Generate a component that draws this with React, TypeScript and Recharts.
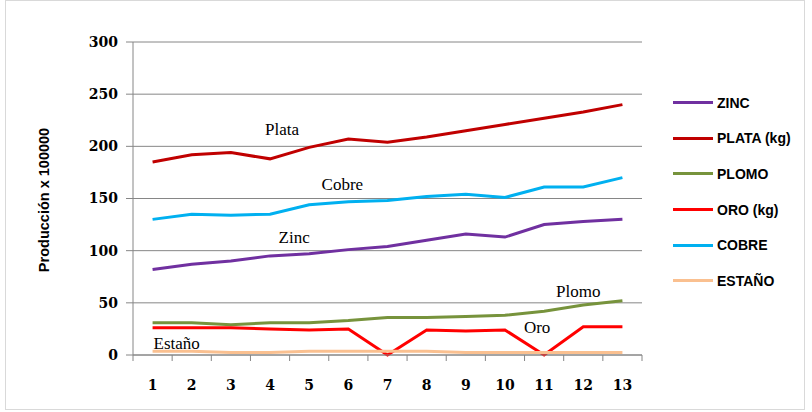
import React from 'react';
import { LineChart, Line, XAxis, YAxis, CartesianGrid, ReferenceDot } from 'recharts';

const periods = [1, 2, 3, 4, 5, 6, 7, 8, 9, 10, 11, 12, 13];
const zinc = [82, 87, 90, 95, 97, 101, 104, 110, 116, 113, 125, 128, 130];
const plata = [185, 192, 194, 188, 199, 207, 204, 209, 215, 221, 227, 233, 240];
const plomo = [31, 31, 29, 31, 31, 33, 36, 36, 37, 38, 42, 48, 52];
const oro = [26, 26, 26, 25, 24, 25, 0, 24, 23, 24, 0, 27, 27];
const cobre = [130, 135, 134, 135, 144, 147, 148, 152, 154, 151, 161, 161, 170];
const estano = [3.5, 3.5, 2.5, 2.5, 3.5, 3.5, 3.5, 3.5, 2.5, 2.5, 2.5, 2.5, 2.5];
const yTicks = [0, 50, 100, 150, 200, 250, 300];
const boundaryTicks = [0.5, 1.5, 2.5, 3.5, 4.5, 5.5, 6.5, 7.5, 8.5, 9.5, 10.5, 11.5, 12.5, 13.5];

const series = [
  { key: 'zinc', name: 'ZINC', color: '#7030A0', values: zinc },
  { key: 'plata', name: 'PLATA (kg)', color: '#C00000', values: plata },
  { key: 'plomo', name: 'PLOMO', color: '#77933C', values: plomo },
  { key: 'oro', name: 'ORO (kg)', color: '#FF0000', values: oro },
  { key: 'cobre', name: 'COBRE', color: '#00B0F0', values: cobre },
  { key: 'estano', name: 'ESTAÑO', color: '#FAC090', values: estano },
];

const annotations = [
  { text: 'Plata', x: 4, y: 216, dx: 12 },
  { text: 'Cobre', x: 6, y: 163, dx: -6 },
  { text: 'Zinc', x: 5, y: 113, dx: -15 },
  { text: 'Plomo', x: 12, y: 61, dx: -5 },
  { text: 'Oro', x: 11, y: 26, dx: -7 },
  { text: 'Estaño', x: 2, y: 11.5, dx: -15 },
];

const data = periods.map((p, i) => {
  const row: Record<string, number> = { x: p };
  series.forEach((s) => {
    row[s.key] = s.values[i];
  });
  return row;
});

const axisFont = { fontFamily: 'DejaVu Serif', fontWeight: 'bold', fontSize: 14, fill: '#000' };

const AnnLabel = (props: any) => {
  const { viewBox, value, dx } = props;
  return (
    <text
      x={viewBox.x + dx}
      y={viewBox.y}
      textAnchor="middle"
      dominantBaseline="central"
      fontFamily="Liberation Serif"
      fontSize={17}
      fill="#000"
    >
      {value}
    </text>
  );
};

// Tick marks sit on category boundaries; each label is drawn at the middle of the next category.
const CategoryTick = (props: any) => {
  const { x, y, payload, width } = props;
  const label = payload.value + 0.5;
  if (label > periods[periods.length - 1]) return <g />;
  const half = width / periods.length / 2;
  return (
    <text
      x={x + half}
      y={y}
      dy="0.71em"
      textAnchor="middle"
      fontFamily={axisFont.fontFamily}
      fontWeight={axisFont.fontWeight}
      fontSize={axisFont.fontSize}
      fill={axisFont.fill}
    >
      {label}
    </text>
  );
};

export default function App() {
  return (
    <div style={{ position: 'absolute', left: 0, top: 0, width: 812, height: 412, background: '#fff' }}>
      <div style={{ position: 'absolute', left: 5, top: 0, width: 800, height: 410, border: '1px solid #d9d9d9', boxSizing: 'border-box' }} />
      <LineChart width={812} height={412} data={data} margin={{ top: 42, right: 170, bottom: 0, left: 0 }}>
        <CartesianGrid vertical={false} stroke="#868686" strokeWidth={1} />
        <XAxis
          dataKey="x"
          type="number"
          domain={[0.5, 13.5]}
          ticks={boundaryTicks}
          tick={<CategoryTick />}
          tickSize={6}
          tickMargin={19}
          height={57}
          stroke="#868686"
          interval={0}
        />
        <YAxis
          width={133}
          domain={[0, 300]}
          ticks={yTicks}
          tickSize={7}
          tickMargin={8}
          stroke="#868686"
          tick={axisFont}
          label={{
            content: () => (
              <text
                x={44}
                y={200}
                transform="rotate(-90 44 200)"
                textAnchor="middle"
                dominantBaseline="central"
                fontFamily="Liberation Sans"
                fontWeight="bold"
                fontSize={14.5}
                fill="#000"
              >
                Producción x 100000
              </text>
            ),
          }}
        />
        {series.map((s) => (
          <Line
            key={s.key}
            dataKey={s.key}
            name={s.name}
            stroke={s.color}
            strokeWidth={3}
            dot={false}
            isAnimationActive={false}
          />
        ))}
        {annotations.map((a) => (
          <ReferenceDot
            key={a.text}
            x={a.x}
            y={a.y}
            r={0}
            fill="none"
            stroke="none"
            label={<AnnLabel value={a.text} dx={a.dx} />}
          />
        ))}
      </LineChart>
      <div style={{ position: 'absolute', left: 673, top: 85 }}>
        {series.map((s) => (
          <div key={s.key} style={{ display: 'flex', alignItems: 'center', height: 35.6 }}>
            <div style={{ width: 40, height: 3, background: s.color }} />
            <span style={{ marginLeft: 4, fontFamily: 'Liberation Sans', fontWeight: 'bold', fontSize: 14, color: '#000' }}>
              {s.name}
            </span>
          </div>
        ))}
      </div>
    </div>
  );
}
